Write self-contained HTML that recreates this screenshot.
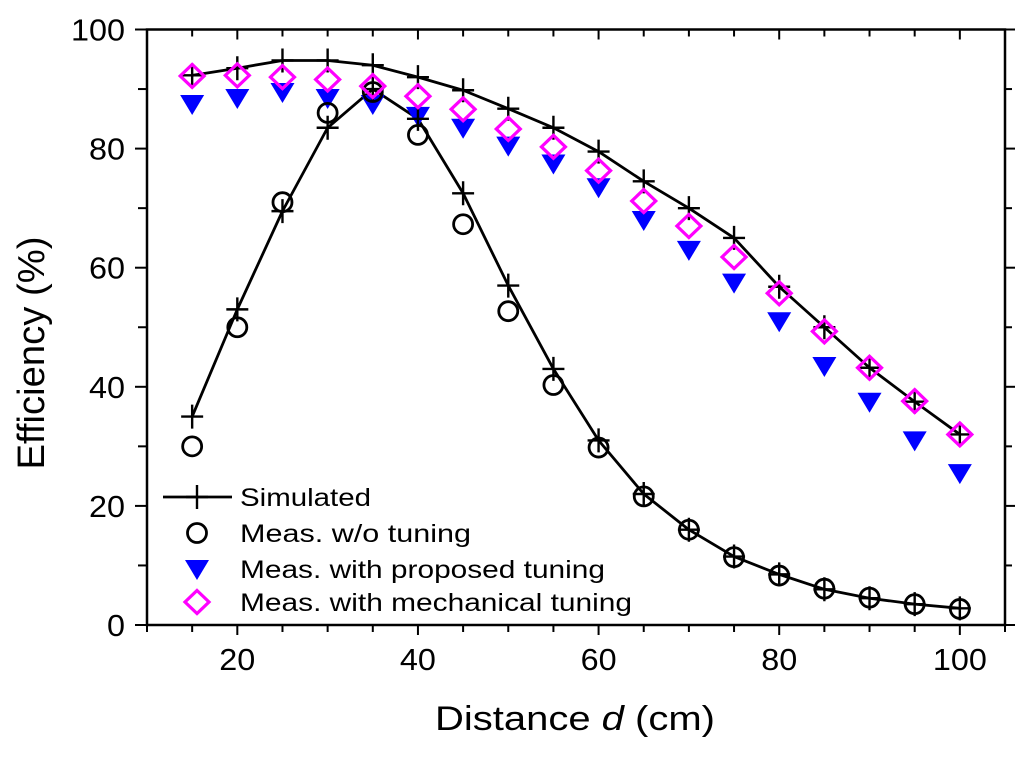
<!DOCTYPE html>
<html><head><meta charset="utf-8"><style>
html,body{margin:0;padding:0;background:#fff;}
svg{display:block;font-family:"Liberation Sans",Arial,sans-serif;}
</style></head><body>
<svg id="chart" width="1024" height="758" viewBox="0 0 1024 758">
<g id="axes"></g><g id="series"></g><g id="legend"></g>
</svg>
<script>
const distances = [15,20,25,30,35,40,45,50,55,60,65,70,75,80,85,90,95,100];
const simLow = [35,53,69.5,83.5,90,85,72.5,57,43,31,22,16,11.5,8.5,6,4.5,3.5,2.8];
const simHigh = [92.3,93.5,94.8,94.8,94,92,89.8,86.7,83.5,79.5,74.5,70,65,56.8,50,43.2,37.5,32];
const measNoTuning = [30,50,71,86,89.5,82.3,67.3,52.7,40.3,29.8,21.6,16,11.4,8.3,6.1,4.6,3.5,2.7];
const measProposed = [87.5,88.5,89.5,88.5,87.5,85.5,83.5,80.5,77.5,73.5,68,63,57.5,51,43.5,37.5,31,25.5];
const measMechanical = [92.2,92.3,92,91.6,90.5,88.8,86.6,83.3,80.3,76.3,71.2,67,61.8,55.7,49.3,43.2,37.6,32];
const xTicks = [20,40,60,80,100];
const yTicks = [0,20,40,60,80,100];

const NS='http://www.w3.org/2000/svg';
const X0=147, X1=1005, Y0=625, Y1=29.5, XMIN=10, XMAX=105, YMIN=0, YMAX=100;
function xs(v){return X0+(v-XMIN)/(XMAX-XMIN)*(X1-X0);}
function ys(v){return Y0-(v-YMIN)/(YMAX-YMIN)*(Y0-Y1);}
function mk(tag,attrs,parent){const e=document.createElementNS(NS,tag);for(const k in attrs)e.setAttribute(k,attrs[k]);parent.appendChild(e);return e;}
const axes=document.getElementById('axes'), series=document.getElementById('series'), legend=document.getElementById('legend');

const frame=mk('rect',{x:X0,y:Y1,width:X1-X0,height:Y0-Y1,fill:'none',stroke:'#000','stroke-width':2.5},axes);


for(let v=10;v<=105;v+=5){
  const x=xs(v), major=(v%20===0);
  const tb=mk('line',{x1:x,y1:Y0,x2:x,y2:Y0+(major?10:7),stroke:'#000','stroke-width':2},axes);
  
  
  const tt=mk('line',{x1:x,y1:Y1,x2:x,y2:Y1+(major?10:7),stroke:'#000','stroke-width':2},axes);
  
  
}
for(let v=0;v<=100;v+=10){
  const y=ys(v), major=(v%20===0);
  const tl=mk('line',{x1:X0,y1:y,x2:X0-(major?12:9),y2:y,stroke:'#000','stroke-width':2},axes);
  
  
  const tr=mk('line',{x1:X1,y1:y,x2:X1+(major?10:7),y2:y,stroke:'#000','stroke-width':2},axes);
  
  
}
xTicks.forEach(v=>{
  const s=String(v);
  const t=mk('text',{x:xs(v),y:670,'text-anchor':'middle','font-size':31,textLength:s.length*18,lengthAdjust:'spacingAndGlyphs'},axes);t.textContent=s;
  
  
});
yTicks.forEach(v=>{
  const s=String(v);
  const t=mk('text',{x:X0-22,y:ys(v)+11,'text-anchor':'end','font-size':31,textLength:s.length*18,lengthAdjust:'spacingAndGlyphs'},axes);t.textContent=s;
  
  
});
const xt=mk('text',{x:435,y:730,'font-size':34,textLength:280,lengthAdjust:'spacingAndGlyphs'},axes);
xt.innerHTML='Distance <tspan font-style="italic">d</tspan> (cm)';


const yt=mk('text',{x:0,y:0,'text-anchor':'middle','font-size':38,textLength:233,lengthAdjust:'spacingAndGlyphs',transform:'translate(44,353) rotate(-90)'},axes);
yt.textContent='Efficiency (%)';



function plus(x,y,g,name){
  const p=mk('path',{d:`M${x-11},${y}H${x+11}M${x},${y-12}V${y+12}`,stroke:'#000','stroke-width':2.4,fill:'none'},g);
  
  
}
function circle(x,y,g,name){
  const c=mk('circle',{cx:x,cy:y,r:9.5,fill:'none',stroke:'#000','stroke-width':2.8},g);
  
  
}
function tri(x,y,g,name){
  const p=mk('path',{d:`M${x-12},${y-9}L${x+12},${y-9}L${x},${y+11}Z`,fill:'#0000ff'},g);
  
  
}
function dia(x,y,g,name){
  const p=mk('path',{d:`M${x},${y-11.5}L${x+12},${y}L${x},${y+11.5}L${x-12},${y}Z`,fill:'none',stroke:'#ff00ff','stroke-width':3.2},g);
  
  
}
[[simLow,'simulated-line-untuned'],[simHigh,'simulated-line-tuned']].forEach(([arr,name])=>{
  const pts=distances.map((d,i)=>xs(d)+','+ys(arr[i])).join(' ');
  const pl=mk('polyline',{points:pts,fill:'none',stroke:'#000','stroke-width':2.8,'stroke-linejoin':'round'},series);
  
  
});
distances.forEach((d,i)=>tri(xs(d),ys(measProposed[i]),series,'proposed-tuning-point'));
distances.forEach((d,i)=>circle(xs(d),ys(measNoTuning[i]),series,'no-tuning-point'));
distances.forEach((d,i)=>{plus(xs(d),ys(simLow[i]),series,'simulated-point');plus(xs(d),ys(simHigh[i]),series,'simulated-point');});
distances.forEach((d,i)=>dia(xs(d),ys(measMechanical[i]),series,'mechanical-tuning-point'));

const ll=mk('line',{x1:163,y1:497,x2:232,y2:497,stroke:'#000','stroke-width':2.8},legend);


plus(197,497,legend,'legend-marker-simulated');
circle(197,533,legend,'legend-marker-no-tuning');
tri(197,569,legend,'legend-marker-proposed');
dia(197,602,legend,'legend-marker-mechanical');
[['Simulated',497,131],['Meas. w/o tuning',533,231],['Meas. with proposed tuning',569,365],['Meas. with mechanical tuning',602,392]].forEach(([s,y,w])=>{
  const t=mk('text',{x:240,y:y+9,'font-size':25,textLength:w,lengthAdjust:'spacingAndGlyphs'},legend);t.textContent=s;
  
  
});
</script>
</body></html>
